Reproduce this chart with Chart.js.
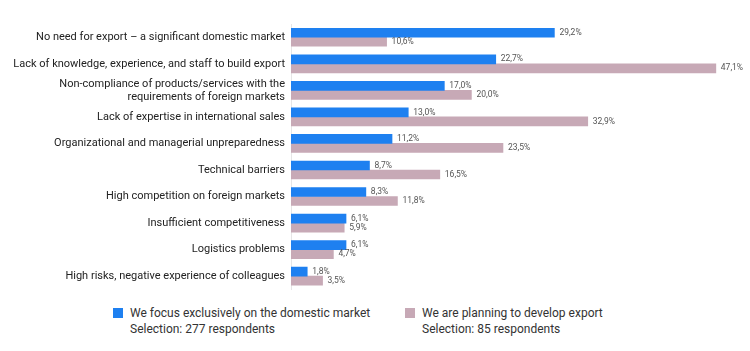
<!DOCTYPE html>
<html>
<head>
<meta charset="utf-8">
<script src="https://cdn.jsdelivr.net/npm/chart.js@4"></script>
<style>
  body { margin: 0; background: #fff; font-family: Roboto, sans-serif; }
  #wrap { position: relative; width: 750px; height: 302px; }
  #legend { position: absolute; top: 305px; left: 113px; display: flex; font-size: 12px; color: #333; line-height: 16px; }
  .item { display: flex; align-items: flex-start; }
  .box { width: 10px; height: 10px; margin: 3px 7px 0 0; }
</style>
</head>
<body>
<div id="wrap"><canvas id="barChart"></canvas></div>
<div id="legend"></div>
<script>
const categories = [
    'No need for export – a significant domestic market',
    'Lack of knowledge, experience, and staff to build export',
    ['Non-compliance of products/services with the', 'requirements of foreign markets'],
    'Lack of expertise in international sales',
    'Organizational and managerial unpreparedness',
    'Technical barriers',
    'High competition on foreign markets',
    'Insufficient competitiveness',
    'Logistics problems',
    'High risks, negative experience of colleagues'
];
const domesticValues = [29.2, 22.7, 17.0, 13.0, 11.2, 8.7, 8.3, 6.1, 6.1, 1.8];
const exportValues = [10.6, 47.1, 20.0, 32.9, 23.5, 16.5, 11.8, 5.9, 4.7, 3.5];
const seriesLabels = ['We focus exclusively on the domestic market', 'We are planning to develop export'];
const seriesNotes = ['Selection: 277 respondents', 'Selection: 85 respondents'];

const valueLabels = {
    id: 'valueLabels',
    afterDatasetsDraw(chart) {
        const ctx = chart.ctx;
        ctx.save();
        ctx.font = '8.5px Roboto, sans-serif';
        ctx.fillStyle = '#555';
        ctx.textBaseline = 'middle';
        chart.data.datasets.forEach((ds, i) => {
            chart.getDatasetMeta(i).data.forEach((bar, j) => {
                ctx.fillText(ds.data[j].toFixed(1).replace('.', ',') + '%', bar.x + 5, bar.y);
            });
        });
        ctx.restore();
    }
};

const chart = new Chart(document.getElementById('barChart'), {
    type: 'bar',
    data: {
        labels: categories,
        datasets: [
            {
                label: seriesLabels[0],
                data: domesticValues,
                backgroundColor: '#1e80f0',
                barThickness: 9,
            },
            {
                label: seriesLabels[1],
                data: exportValues,
                backgroundColor: '#c7a9b6',
                barThickness: 9,
            }
        ]
    },
    options: {
        indexAxis: 'y',
        responsive: true,
        maintainAspectRatio: false,
        animation: false,
        layout: { padding: { top: 24, bottom: 2, right: 8, left: 0 } },
        scales: {
            x: { display: false, min: 0, max: 50 },
            y: {
                afterFit(scale) { scale.width = 291; },
                grid: { display: false, drawTicks: false },
                border: { display: true, color: '#e6e6e6' },
                ticks: { autoSkip: false, color: '#222', padding: 6, font: { family: 'Roboto', size: 11 } }
            }
        },
        plugins: {
            legend: { display: false },
            tooltip: { enabled: false }
        }
    },
    plugins: [valueLabels]
});

const legend = document.getElementById('legend');
chart.data.datasets.forEach((ds, i) => {
    const item = document.createElement('div');
    item.className = 'item';
    item.style.width = i === 0 ? '292px' : 'auto';
    item.innerHTML = '<span class="box" style="background:' + ds.backgroundColor + '"></span><span>' + ds.label + '<br>' + seriesNotes[i] + '</span>';
    legend.appendChild(item);
});
</script>
</body>
</html>
